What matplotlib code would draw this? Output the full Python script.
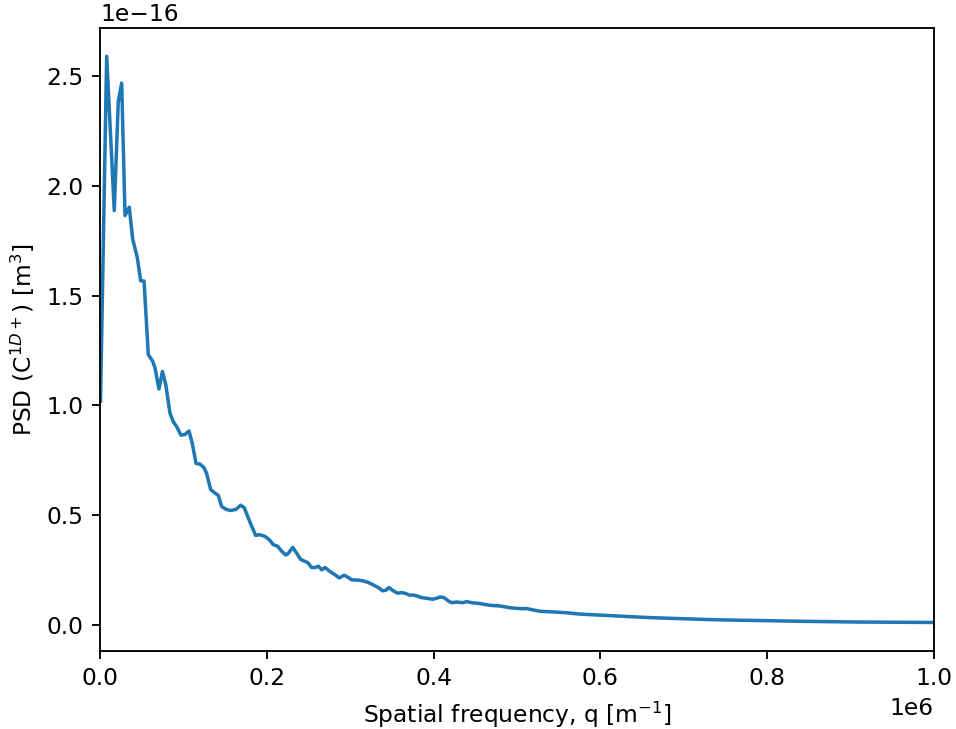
import matplotlib
matplotlib.use("Agg")
import matplotlib.pyplot as plt
import numpy as np

# spatial frequency in units of 1e3 m^-1
q_k = [0.6, 8.0, 17.1, 21.9, 26.0, 30.0, 35.1, 39.2, 44.7, 48.8, 52.8, 57.9, 63.2, 65.9,
       70.7, 74.9, 78.9, 83.9, 87.9, 92.0, 97.1, 101.9, 106.7, 110.7, 115.1, 119.9, 124.7,
       127.9, 132.7, 137.9, 141.8, 145.9, 151.1, 156.7, 163.1, 168.7, 173.0, 179.9, 186.7,
       191.0, 197.8, 203.0, 207.8, 213.1, 217.9, 222.7, 225.8, 231.1, 235.9, 240.6, 245.8,
       249.0, 253.8, 257.8, 261.8, 265.8, 269.8, 275.8, 281.8, 286.9, 292.9, 297.7, 301.8,
       309.7, 315.7, 321.7, 327.7, 333.7, 339.0, 342.9, 346.5, 351.7, 357.0, 361.7, 365.7,
       371.7, 375.7, 379.7, 385.7, 391.7, 398.9, 403.7, 407.7, 412.5, 417.6, 421.7, 427.7,
       434.9, 439.7, 445.7, 455.6, 467.6, 479.6, 491.6, 503.6, 511.6, 519.5, 527.6, 543.5,
       559.6, 575.5, 591.5, 659.5, 731.4, 755.4, 847.4, 907.3, 1000.0, 1050.0]
# PSD in units of 1e-16 m^3
psd_e16 = [1.02, 2.59, 1.888, 2.384, 2.468, 1.865, 1.903, 1.758, 1.674, 1.567, 1.567, 1.232,
           1.201, 1.171, 1.075, 1.155, 1.094, 0.965, 0.926, 0.903, 0.865, 0.868, 0.884, 0.827,
           0.736, 0.733, 0.717, 0.690, 0.617, 0.601, 0.591, 0.540, 0.527, 0.522, 0.527, 0.546,
           0.534, 0.468, 0.408, 0.412, 0.404, 0.389, 0.366, 0.359, 0.336, 0.319, 0.327, 0.354,
           0.327, 0.299, 0.290, 0.285, 0.262, 0.262, 0.268, 0.252, 0.262, 0.244, 0.229, 0.215,
           0.227, 0.217, 0.206, 0.205, 0.201, 0.194, 0.183, 0.171, 0.156, 0.159, 0.171, 0.156,
           0.145, 0.148, 0.145, 0.136, 0.137, 0.133, 0.125, 0.122, 0.118, 0.122, 0.128, 0.125,
           0.110, 0.102, 0.105, 0.102, 0.107, 0.102, 0.098, 0.090, 0.087, 0.079, 0.075, 0.075,
           0.069, 0.063, 0.060, 0.056, 0.050, 0.047, 0.034, 0.025, 0.023, 0.017, 0.014, 0.012,
           0.011]

q = np.array(q_k) * 1e3
psd = np.array(psd_e16) * 1e-16

DPI = 168
fig = plt.figure(figsize=(956 / DPI, 729 / DPI), dpi=DPI)
ax = fig.add_axes([100 / 956, 1 - 651 / 729, 834 / 956, 623 / 729])
ax.plot(q, psd, color="#1f77b4", linewidth=1.5)
ax.set_xlim(0, 1e6)
ax.set_xlabel(r"Spatial frequency, q [m$^{-1}$]")
ax.set_ylabel(r"PSD (C$^{1D+}$) [m$^3$]")
fig.savefig("out.png", dpi=DPI)
